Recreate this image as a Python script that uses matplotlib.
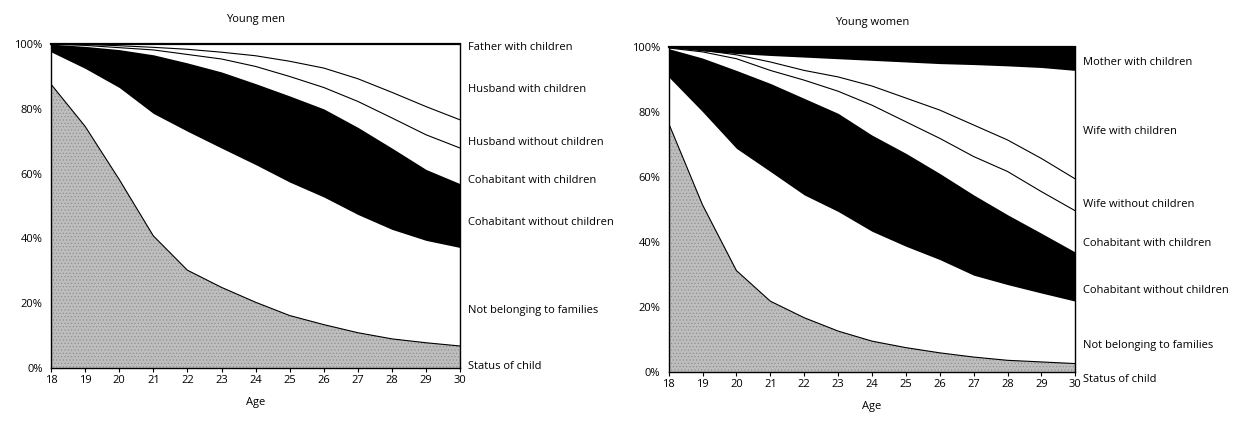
import matplotlib.pyplot as plt
from matplotlib.ticker import PercentFormatter

plt.rcParams['font.family'] = ['Open Sans', 'DejaVu Sans']
plt.rcParams['hatch.linewidth'] = 0.4

ages = list(range(18, 31))

# Young men: cumulative boundaries (% from bottom)
men_child = [87.6, 74.6, 58.2, 40.8, 30.2, 24.9, 20.3, 16.2, 13.4, 10.9, 9.0, 7.8, 6.8]
men_notfam = [97.6, 92.5, 86.6, 78.6, 73.1, 67.9, 62.8, 57.4, 52.8, 47.4, 42.8, 39.4, 37.2]
men_cohab = [100.0, 99.3, 98.3, 96.7, 94.2, 91.4, 87.8, 84.0, 80.0, 74.3, 67.9, 61.3, 56.9]
men_husb_wo = [100.0, 99.6, 98.9, 98.2, 96.8, 95.4, 93.1, 90.0, 86.6, 82.3, 77.2, 72.0, 67.9]
men_husb_w = [100.0, 99.9, 99.5, 99.0, 98.4, 97.5, 96.4, 94.7, 92.6, 89.3, 85.1, 80.7, 76.6]
men_labels = ['Father with children', 'Husband with children', 'Husband without children',
              'Cohabitant with children', 'Cohabitant without children',
              'Not belonging to families', 'Status of child']
men_label_y = [98.9, 85.9, 69.5, 57.9, 44.9, 17.9, 0.5]

# Young women
wom_child = [76.5, 51.4, 31.2, 21.8, 16.7, 12.6, 9.5, 7.5, 5.9, 4.6, 3.6, 3.1, 2.6]
wom_notfam = [90.8, 80.1, 68.8, 61.7, 54.5, 49.4, 43.3, 38.7, 34.6, 29.8, 26.9, 24.3, 21.8]
wom_cohab = [99.5, 96.6, 92.8, 88.8, 84.2, 79.6, 72.9, 67.3, 61.1, 54.5, 48.4, 42.7, 36.9]
wom_wife_wo = [99.7, 98.5, 96.4, 92.8, 89.8, 86.4, 82.1, 77.0, 71.9, 66.3, 61.7, 55.5, 49.6]
wom_wife_w = [99.8, 99.0, 97.6, 95.4, 92.8, 90.8, 88.0, 84.3, 80.6, 76.0, 71.4, 65.7, 59.4]
wom_mother = [100.0, 98.8, 98.0, 97.4, 96.9, 96.4, 95.9, 95.4, 94.9, 94.6, 94.2, 93.7, 92.8]
wom_labels = ['Mother with children', 'Wife with children', 'Wife without children',
              'Cohabitant with children', 'Cohabitant without children',
              'Not belonging to families', 'Status of child']
wom_label_y = [95.1, 73.9, 51.4, 39.4, 25.1, 8.2, -2.2]

fig = plt.figure(figsize=(12.36, 4.24), dpi=100)
ax1 = fig.add_axes([0.0413, 0.132, 0.331, 0.764])
ax2 = fig.add_axes([0.541, 0.1226, 0.329, 0.7665])

gray = '#bdbdbd'


def style(ax, title, labels, label_y):
    ax.set_xlim(18, 30)
    ax.set_ylim(0, 100)
    ax.set_xticks(ages)
    ax.set_yticks(range(0, 101, 20))
    ax.yaxis.set_major_formatter(PercentFormatter(decimals=0))
    ax.tick_params(axis='y', length=0, labelsize=8, pad=6)
    ax.tick_params(axis='x', length=3, labelsize=8, pad=2)
    ax.set_xlabel('Age', fontsize=8, labelpad=8)
    ax.set_title(title, fontsize=8, pad=16)
    for s in ax.spines.values():
        s.set_linewidth(1.0)
    ax.spines['top'].set_linewidth(1.6)
    for lab, y in zip(labels, label_y):
        ax.text(1.018, y, lab, transform=ax.get_yaxis_transform(),
                fontsize=8, va='center', ha='left')


# Young men
ax1.fill_between(ages, 0, men_child, facecolor=gray, edgecolor='#8a8a8a',
                 hatch='.....', lw=0)
ax1.fill_between(ages, men_notfam, men_cohab, color='black', lw=0)
ax1.plot(ages, men_child, color='black', lw=0.8)
ax1.plot(ages, men_husb_wo, color='black', lw=0.8)
ax1.plot(ages, men_husb_w, color='black', lw=0.8)
style(ax1, 'Young men', men_labels, men_label_y)

# Young women
ax2.fill_between(ages, 0, wom_child, facecolor=gray, edgecolor='#8a8a8a',
                 hatch='.....', lw=0)
ax2.fill_between(ages, wom_notfam, wom_cohab, color='black', lw=0)
ax2.fill_between(ages, wom_mother, 100, color='black', lw=0)
ax2.plot(ages, wom_child, color='black', lw=0.8)
ax2.plot(ages, wom_wife_wo, color='black', lw=0.8)
ax2.plot(ages, wom_wife_w, color='black', lw=0.8)
style(ax2, 'Young women', wom_labels, wom_label_y)

fig.savefig('out.png', dpi=100)
